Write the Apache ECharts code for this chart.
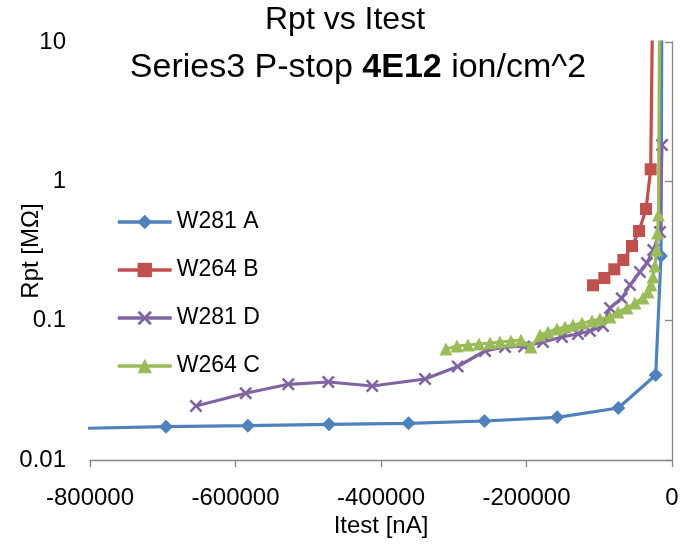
<!DOCTYPE html>
<html>
<head>
<meta charset="utf-8">
<script src="https://cdn.jsdelivr.net/npm/echarts@6/dist/echarts.min.js"></script>
<style>
html,body{margin:0;padding:0;background:#fff;}
#chart{width:680px;height:547px;}
</style>
</head>
<body>
<div id="chart"></div>
<script>
// ---- data (Itest [nA], Rpt [MOhm]) ----
const seriesNames = ['W281 A', 'W264 B', 'W281 D', 'W264 C'];

const w281A_x = [-900000, -695500, -583000, -471500, -362200, -257700, -157800, -73800, -22400, -15100, -13500];
const w281A_y = [0.0165, 0.01734, 0.01763, 0.01804, 0.01834, 0.01905, 0.02025, 0.02361, 0.04074, 0.2911, 100];

const w264B_x = [-108600, -93000, -79300, -66900, -55000, -45300, -35700, -29300, -25000];
const w264B_y = [0.1794, 0.2023, 0.2337, 0.2725, 0.3436, 0.440, 0.633, 1.22, 100];

const w281D_x = [-654300, -586000, -527400, -472400, -412000, -339500, -294600, -257000, -229500, -203400,
                 -177300, -151200, -129200, -112700, -94800, -85200, -69100, -57700, -44000, -34400,
                 -25700, -16500, -13750];
const w281D_y = [0.02441, 0.03011, 0.03494, 0.03630, 0.03397, 0.03814, 0.04689, 0.06058, 0.06471, 0.06525,
                 0.07030, 0.07635, 0.08023, 0.08430, 0.09156, 0.1233, 0.1446, 0.1803, 0.2234, 0.2594,
                 0.3214, 0.4329, 1.823];

const w264C_x = [-310700, -295500, -280400, -265300, -250200, -236400, -221300, -207600, -193800, -181400,
                 -170400, -158100, -147100, -136100, -123700, -110000, -99000, -85200, -74200, -61900,
                 -50900, -39900, -33000, -28900, -26100, -23400, -21300, -19900, -18600, -16000];
const w264C_y = [0.06260, 0.06579, 0.06689, 0.06800, 0.06913, 0.07029, 0.07146, 0.07264, 0.06471, 0.07890,
                 0.08291, 0.08712, 0.09006, 0.09309, 0.09623, 0.09945, 0.1028, 0.1062, 0.1154, 0.1233,
                 0.1339, 0.1455, 0.1606, 0.1803, 0.2058, 0.2468, 0.3214, 0.4258, 0.5733, 100];

const xTicks = [-800000, -600000, -400000, -200000, 0];
const yTickLabels = ['0.01', '0.1', '1', '10'];

// ---- styling ----
const FONT = 'Liberation Sans';
const colors = ['#4F81BD', '#C0504D', '#8064A2', '#9BBB59'];
const crossPath = 'path://M0,1.4L1.4,0L5,3.6L8.6,0L10,1.4L6.4,5L10,8.6L8.6,10L5,6.4L1.4,10L0,8.6L3.6,5Z';
const symbols = ['diamond', 'rect', crossPath, 'triangle'];
const symbolSizes = [14, 12, 13, 13];

const pairs = (xs, ys) => xs.map((x, i) => [x, ys[i]]);
const dataSets = [pairs(w281A_x, w281A_y), pairs(w264B_x, w264B_y), pairs(w281D_x, w281D_y), pairs(w264C_x, w264C_y)];

const chart = echarts.init(document.getElementById('chart'), null, {renderer: 'canvas'});

const option = {
  animation: false,
  backgroundColor: '#fff',
  title: [
    {
      text: 'Rpt vs Itest',
      left: 340,
      top: -4,
      textAlign: 'center',
      textStyle: {fontFamily: FONT, fontSize: 32, color: '#000', fontWeight: 'normal', lineHeight: 38}
    },
    {
      text: '{c|Series3 P-stop }{b|4E12}{c| ion/cm^2}',
      left: 353,
      top: 43,
      textAlign: 'center',
      textStyle: {
        fontWeight: 'normal',
        rich: {
          c: {fontFamily: FONT, fontSize: 34, color: '#000', fontWeight: 'normal', lineHeight: 40},
          b: {fontFamily: FONT, fontSize: 34, color: '#000', fontWeight: 'bold', lineHeight: 40}
        }
      }
    }
  ],
  legend: {
    orient: 'vertical',
    left: 116,
    top: 210,
    padding: 0,
    itemWidth: 54,
    itemHeight: 18,
    itemGap: 24,
    lineStyle: {width: 3.5},
    textStyle: {fontFamily: FONT, fontSize: 23, color: '#000', lineHeight: 24},
    data: seriesNames
  },
  grid: {left: 90, right: 8, top: 42, bottom: 87, containLabel: false, outerBoundsMode: 'none'},
  xAxis: {
    type: 'value',
    min: xTicks[0],
    max: xTicks[xTicks.length - 1],
    interval: 200000,
    name: 'Itest [nA]',
    nameLocation: 'middle',
    nameGap: 54,
    nameMoveOverlap: false,
    nameTextStyle: {fontFamily: FONT, fontSize: 24, color: '#000'},
    axisLine: {show: true, onZero: false, lineStyle: {color: '#868686', width: 1.3}},
    axisTick: {show: true, inside: false, length: 7, lineStyle: {color: '#868686', width: 1.3}},
    axisLabel: {fontFamily: FONT, fontSize: 24, color: '#000', margin: 26,
      formatter: function (v) { return String(Math.round(v)); }},
    splitLine: {show: false}
  },
  yAxis: {
    type: 'log',
    logBase: 10,
    min: 0.01,
    max: 10,
    name: 'Rpt [MΩ]',
    nameLocation: 'middle',
    nameGap: 47,
    nameMoveOverlap: false,
    nameTextStyle: {fontFamily: FONT, fontSize: 24, color: '#000'},
    axisLine: {show: true, lineStyle: {color: '#868686', width: 1.3}},
    axisTick: {show: true, inside: false, length: 7, lineStyle: {color: '#868686', width: 1.3}},
    axisLabel: {
      fontFamily: FONT, fontSize: 24, color: '#000', margin: 24,
      formatter: function (v) {
        const s = String(+(+v).toPrecision(3));
        return yTickLabels.indexOf(s) >= 0 ? s : '';
      }
    },
    splitLine: {show: false},
    minorTick: {show: false}
  },
  series: seriesNames.map((name, i) => ({
    name: name,
    type: 'line',
    data: dataSets[i],
    symbol: symbols[i],
    symbolSize: symbolSizes[i],
    showAllSymbol: true,
    clip: true,
    z: [2, 3, 4, 5][i],
    lineStyle: {color: colors[i], width: 3.2},
    itemStyle: {color: colors[i]}
  }))
};
chart.setOption(option);
</script>
</body>
</html>
